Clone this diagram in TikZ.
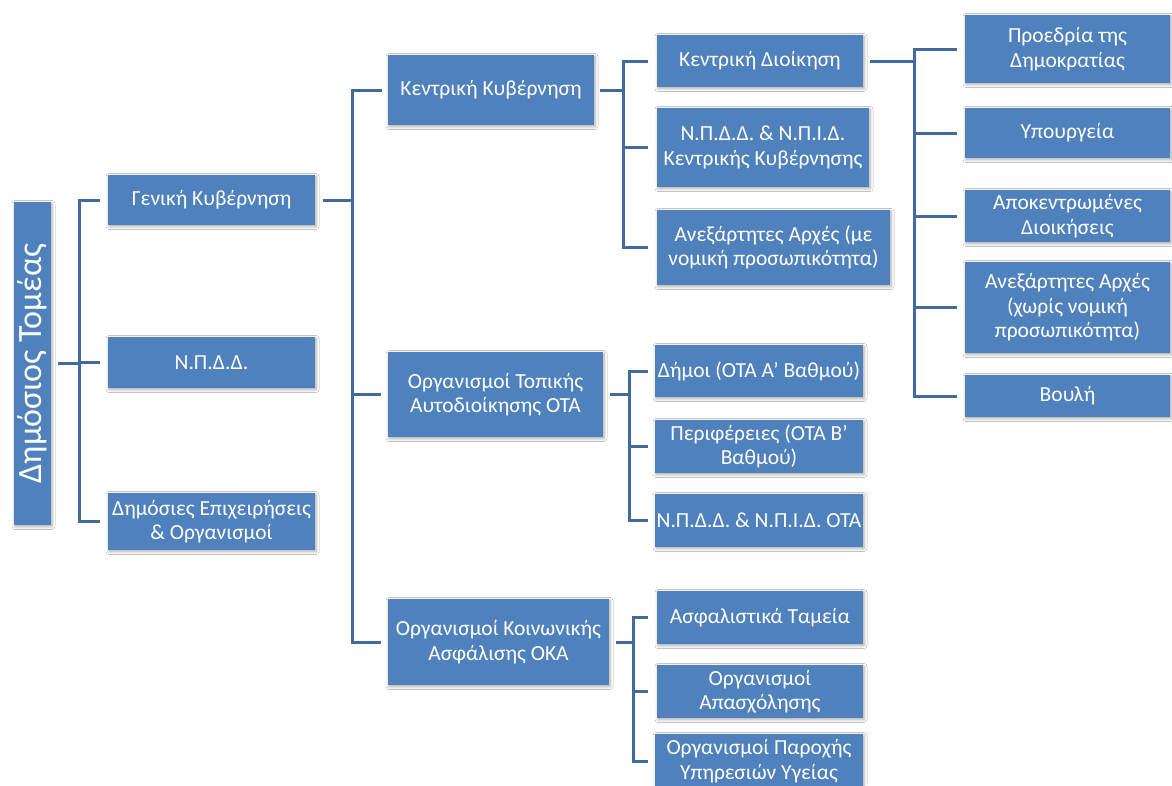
\documentclass[tikz,border=0pt]{standalone}
\usepackage{fontspec}
\setmainfont{Carlito}
\usetikzlibrary{shadows.blur}
\definecolor{boxblue}{RGB}{79,129,189}
\definecolor{lineblue}{RGB}{65,106,157}
\tikzset{
  box/.style={fill=boxblue, draw=none, text=white, align=center, inner sep=0pt,
    font=\fontsize{21.5}{24.5}\selectfont,
    blur shadow={shadow xshift=1pt, shadow yshift=-1.5pt, shadow blur radius=3pt, shadow opacity=35}},
  conn/.style={draw=lineblue, line width=3pt}
}
\newcommand{\bx}[6]{\node[box, minimum width={(#4-#2)*1pt}, minimum height={(#5-#3)*1pt}] (#1) at ({(#2+#4)/2},{(#3+#5)/2}) {#6};}
\begin{document}
\begin{tikzpicture}[x=1pt,y=-1pt]
\useasboundingbox (0,0) rectangle (1172,785);
\fill[white] (0,0) rectangle (1172,785);
\clip (0,0) rectangle (1172,785);
% root
\node[box, minimum width=323pt, minimum height=37pt, rotate=90, font=\fontsize{34}{38}\selectfont] (root) at (32.5,363.5) {Δημόσιος Τομέας};
% level 1
\bx{gen}{108}{175}{315}{225}{Γενική Κυβέρνηση}
\bx{npdd}{108}{337}{315}{388}{Ν.Π.Δ.Δ.}
\bx{dem}{108}{493}{315}{550}{Δημόσιες Επιχειρήσεις\\\& Οργανισμοί}
% level 2
\bx{kk}{388}{55}{594}{125}{Κεντρική Κυβέρνηση}
\bx{ota}{388}{352}{603}{437}{Οργανισμοί Τοπικής\\Αυτοδιοίκησης ΟΤΑ}
\bx{oka}{388}{599}{609}{685}{Οργανισμοί Κοινωνικής\\Ασφάλισης ΟΚΑ}
% level 3
\bx{kd}{657}{35}{863}{87}{Κεντρική Διοίκηση}
\bx{npkk}{657}{108}{869}{187}{Ν.Π.Δ.Δ. \& Ν.Π.Ι.Δ.\\Κεντρικής Κυβέρνησης}
\bx{anm}{657}{210}{890}{285}{Ανεξάρτητες Αρχές (με\\νομική προσωπικότητα)}
\bx{dim}{655}{345}{863}{397}{Δήμοι (ΟΤΑ Α’ Βαθμού)}
\bx{per}{655}{420}{863}{473}{Περιφέρειες (ΟΤΑ Β’\\Βαθμού)}
\bx{npota}{655}{494}{863}{547}{Ν.Π.Δ.Δ. \& Ν.Π.Ι.Δ. ΟΤΑ}
\bx{asf}{657}{591}{863}{644}{Ασφαλιστικά Ταμεία}
\bx{apa}{657}{665}{863}{718}{Οργανισμοί\\Απασχόλησης}
\bx{par}{655}{734}{863}{788}{Οργανισμοί Παροχής\\Υπηρεσιών Υγείας}
% level 4
\bx{pro}{965}{15}{1170}{83}{Προεδρία της\\Δημοκρατίας}
\bx{ypo}{965}{108}{1170}{158}{Υπουργεία}
\bx{apo}{965}{190}{1170}{242}{Αποκεντρωμένες\\Διοικήσεις}
\bx{anx}{965}{262}{1170}{353}{Ανεξάρτητες Αρχές\\(χωρίς νομική\\προσωπικότητα)}
\bx{vou}{965}{375}{1170}{417}{Βουλή}
% connectors
\coordinate (v0) at (79,363);
\coordinate (v1) at (352,200);
\coordinate (v2) at (623,90);
\coordinate (v3) at (629,394);
\coordinate (v4) at (633,642);
\coordinate (v5) at (914,61);
\draw[conn] ([xshift=7pt]root.south) -- (root.south -| v0);
\draw[conn] ([xshift=-8pt]gen.west) -| (v0) |- ([xshift=-8pt]dem.west);
\draw[conn] ([xshift=-8pt]npdd.west) -- (npdd.west -| v0);
\draw[conn] ([xshift=8pt]gen.east) -- (gen.east -| v1);
\draw[conn] ([xshift=-6pt]kk.west) -| (v1) |- ([xshift=-7pt]oka.west);
\draw[conn] ([xshift=-7pt]ota.west) -- (ota.west -| v1);
\draw[conn] ([xshift=6pt]kk.east) -- (kk.east -| v2);
\draw[conn] ([xshift=-9pt]kd.west) -| (v2) |- ([xshift=-9pt]anm.west);
\draw[conn] ([xshift=-9pt]npkk.west) -- (npkk.west -| v2);
\draw[conn] ([xshift=7pt]ota.east) -- (ota.east -| v3);
\draw[conn] ([xshift=-7pt]dim.west) -| (v3) |- ([xshift=-7pt]npota.west);
\draw[conn] ([xshift=-7pt]per.west) -- (per.west -| v3);
\draw[conn] ([xshift=7pt]oka.east) -- (oka.east -| v4);
\draw[conn] ([xshift=-9pt]asf.west) -| (v4) |- ([xshift=-7pt]par.west);
\draw[conn] ([xshift=-9pt]apa.west) -- (apa.west -| v4);
\draw[conn] ([xshift=7pt]kd.east) -- (kd.east -| v5);
\draw[conn] ([xshift=-8pt]pro.west) -| (v5) |- ([xshift=-8pt]vou.west);
\draw[conn] ([xshift=-8pt]ypo.west) -- (ypo.west -| v5);
\draw[conn] ([xshift=-8pt]apo.west) -- (apo.west -| v5);
\draw[conn] ([xshift=-8pt]anx.west) -- (anx.west -| v5);
\end{tikzpicture}
\end{document}
